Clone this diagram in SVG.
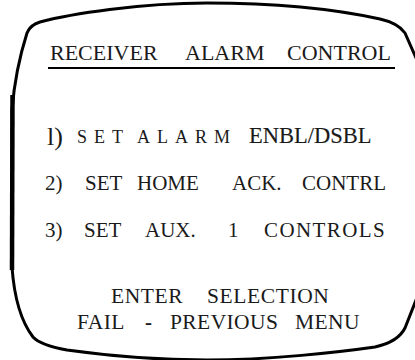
<svg xmlns="http://www.w3.org/2000/svg" width="415" height="360" viewBox="0 0 415 360">
<style>
text{font-family:'Liberation Serif','Times New Roman',serif;fill:#1a1a1a}
.frame{fill:none;stroke:#000;stroke-width:3;stroke-linecap:round;stroke-linejoin:round}
</style>
<rect width="415" height="360" fill="#fff"/>
<g id="screen">
<path class="frame" d="M416 58 L405 33 Q398 23 380 19 C330 8 270 3 207 3 C140 3 70 14 40 22 Q30 25 27 33 C20 55 14 85 12 110 L12 267 C14 295 20 320 33 337 Q40 345 67 350 C110 356 160 360 207 360 C270 360 340 352 375 347 Q398 342 405 328 L416 300"/>
<path d="M12.5 95 L12 270" stroke="#000" stroke-width="4.5" fill="none"/>
</g>
<g id="title">
<text font-size="22" y="60"><tspan x="50">RECEIVER</tspan><tspan x="185">ALARM</tspan><tspan x="287">CONTROL</tspan></text>
<line x1="48" y1="68" x2="395" y2="68" stroke="#000" stroke-width="2"/>
</g>
<g id="option1">
<text font-size="26" x="47" y="145">l)</text>
<text font-size="18" letter-spacing="7" y="143"><tspan x="77">SET</tspan><tspan x="137">ALARM</tspan></text>
<text font-size="22.5" x="249" y="143" stroke="#1a1a1a" stroke-width="0.15">ENBL/DSBL</text>
</g>
<g id="option2">
<text font-size="21" y="190"><tspan x="45">2)</tspan><tspan x="85">SET</tspan><tspan x="137">HOME</tspan><tspan x="232">ACK.</tspan><tspan x="302">CONTRL</tspan></text>
</g>
<g id="option3">
<text font-size="21" y="237"><tspan x="45">3)</tspan><tspan x="84">SET</tspan><tspan x="145">AUX.</tspan><tspan x="228">1</tspan><tspan x="264" letter-spacing="1.4">CONTROLS</tspan></text>
</g>
<g id="footer">
<text font-size="21.5" y="303" letter-spacing="0.6"><tspan x="111">ENTER</tspan><tspan x="207">SELECTION</tspan></text>
<text font-size="21.5" y="329" letter-spacing="0.4"><tspan x="77">FAIL</tspan><tspan x="170">PREVIOUS</tspan><tspan x="295">MENU</tspan></text>
<text font-size="21" x="145" y="329" font-weight="bold">-</text>
</g>
</svg>
